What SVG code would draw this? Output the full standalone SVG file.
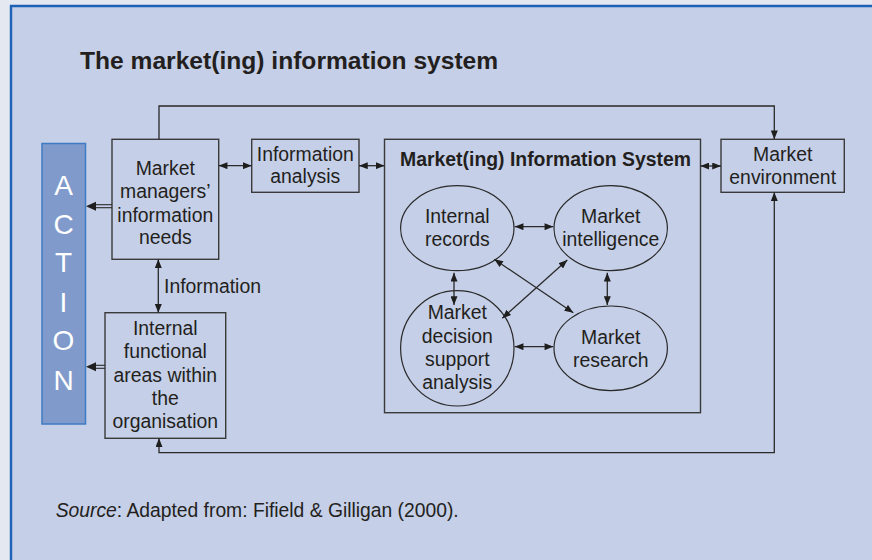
<svg xmlns="http://www.w3.org/2000/svg" width="872" height="560" viewBox="0 0 872 560">
<style>
text{font-family:"Liberation Sans",Arial,sans-serif;fill:#231f20;}
.t{font-size:19.4px;text-anchor:middle;}
.box{fill:none;stroke:#3a3a3a;stroke-width:1.4;}
.ell{fill:none;stroke:#2a2a2a;stroke-width:1.2;}
.ln{fill:none;stroke:#2a2a2a;stroke-width:1.3;}
.act{font-size:28px;fill:#ffffff;text-anchor:middle;}
</style>
<defs>
<marker id="ah" viewBox="0 0 10 8" refX="10" refY="4" markerWidth="9" markerHeight="7" markerUnits="userSpaceOnUse" orient="auto-start-reverse">
<path d="M0,0 L10,4 L0,8 z" fill="#1e1e1e"/>
</marker>
</defs>
<rect x="0" y="0" width="872" height="560" fill="#e4e8f1"/>
<rect x="11" y="6" width="861" height="554" fill="#c5cfe7"/>
<line x1="10" y1="6" x2="872" y2="6" stroke="#1d62b5" stroke-width="2.4"/>
<line x1="11" y1="5" x2="11" y2="560" stroke="#1d62b5" stroke-width="2.4"/>

<text x="80" y="69" style="font-size:24.6px;font-weight:bold;">The market(ing) information system</text>

<g id="action">
<rect x="42" y="143.5" width="43.5" height="280.5" fill="#7f9acb" stroke="#3f7bc4" stroke-width="1.5"/>
<text class="act" x="63.5" y="195">A</text>
<text class="act" x="63.5" y="233.5">C</text>
<text class="act" x="63.5" y="272">T</text>
<text class="act" x="63.5" y="311.5">I</text>
<text class="act" x="63.5" y="350">O</text>
<text class="act" x="63.5" y="389.5">N</text>
</g>

<g id="managers">
<rect class="box" x="112" y="139.3" width="106.7" height="120"/>
<text class="t" x="165.3" y="175">Market</text>
<text class="t" x="165.3" y="197.7">managers’</text>
<text class="t" x="165.3" y="221.5">information</text>
<text class="t" x="165.3" y="244.3">needs</text>
</g>

<g id="analysis">
<rect class="box" x="251.7" y="139.3" width="107.3" height="53"/>
<text class="t" x="305.3" y="160.7">Information</text>
<text class="t" x="305.3" y="183.3">analysis</text>
</g>

<g id="mis">
<rect class="box" x="384.5" y="139.3" width="316" height="273.4"/>
<text x="545.5" y="166" style="font-size:19.4px;font-weight:bold;text-anchor:middle;">Market(ing) Information System</text>
</g>

<g id="environment">
<rect class="box" x="721" y="139.3" width="123.3" height="53"/>
<text class="t" x="782.7" y="160.7">Market</text>
<text class="t" x="782.7" y="184">environment</text>
</g>

<g id="functional">
<rect class="box" x="105" y="312.7" width="120.7" height="125.6"/>
<text class="t" x="165.3" y="335">Internal</text>
<text class="t" x="165.3" y="358.3">functional</text>
<text class="t" x="165.3" y="381.7">areas within</text>
<text class="t" x="165.3" y="405">the</text>
<text class="t" x="165.3" y="428.3">organisation</text>
</g>

<g id="records">
<ellipse class="ell" cx="457.3" cy="228.2" rx="56.7" ry="42.5"/>
<text class="t" x="457.3" y="223.3">Internal</text>
<text class="t" x="457.3" y="246">records</text>
</g>

<g id="intelligence">
<ellipse class="ell" cx="610.7" cy="228.2" rx="56.7" ry="42.5"/>
<text class="t" x="610.7" y="223.3">Market</text>
<text class="t" x="610.7" y="246">intelligence</text>
</g>

<g id="decision">
<ellipse class="ell" cx="457.3" cy="348.3" rx="56.7" ry="57.7"/>
<text class="t" x="457.3" y="319.3">Market</text>
<text class="t" x="457.3" y="342.7">decision</text>
<text class="t" x="457.3" y="366">support</text>
<text class="t" x="457.3" y="388.8">analysis</text>
</g>

<g id="research">
<ellipse class="ell" cx="610.7" cy="348.3" rx="56.7" ry="42.3"/>
<text class="t" x="610.7" y="344">Market</text>
<text class="t" x="610.7" y="366.5">research</text>
</g>

<g id="connectors">
<polyline class="ln" points="159,139.3 159,106 774.3,106 774.3,139.3" marker-end="url(#ah)"/>
<polyline class="ln" points="159,438.3 159,452.7 774.3,452.7 774.3,192.3" marker-start="url(#ah)" marker-end="url(#ah)"/>
<line class="ln" x1="218.7" y1="165.7" x2="251.7" y2="165.7" marker-start="url(#ah)" marker-end="url(#ah)"/>
<line class="ln" x1="359" y1="165.7" x2="384.5" y2="165.7" marker-start="url(#ah)" marker-end="url(#ah)"/>
<line class="ln" x1="700.5" y1="166" x2="721" y2="166" marker-start="url(#ah)" marker-end="url(#ah)"/>
<line class="ln" x1="158.3" y1="259.3" x2="158.3" y2="312.7" marker-start="url(#ah)" marker-end="url(#ah)"/>
<text x="164" y="293.3" style="font-size:19.4px;">Information</text>
<line class="ln" x1="514.7" y1="226.7" x2="553.3" y2="226.7" marker-start="url(#ah)" marker-end="url(#ah)"/>
<line class="ln" x1="514.7" y1="346.7" x2="553.3" y2="346.7" marker-start="url(#ah)" marker-end="url(#ah)"/>
<line class="ln" x1="454" y1="272.7" x2="454" y2="305" marker-start="url(#ah)" marker-end="url(#ah)"/>
<line class="ln" x1="607.3" y1="272.7" x2="607.3" y2="305" marker-start="url(#ah)" marker-end="url(#ah)"/>
<line class="ln" x1="494.3" y1="259.3" x2="573.3" y2="312.7" marker-start="url(#ah)" marker-end="url(#ah)"/>
<line class="ln" x1="502.3" y1="318.3" x2="567.3" y2="260" marker-start="url(#ah)" marker-end="url(#ah)"/>
<g fill="none" stroke="#2a2a2a" stroke-width="1.1">
<line x1="112" y1="204.7" x2="93" y2="204.7"/>
<line x1="112" y1="207.7" x2="93" y2="207.7"/>
<line x1="105" y1="365.3" x2="93" y2="365.3"/>
<line x1="105" y1="368.3" x2="93" y2="368.3"/>
</g>
<path d="M86,206.2 L96,201.7 L96,210.7 z" fill="#1e1e1e"/>
<path d="M86,366.8 L96,362.3 L96,371.3 z" fill="#1e1e1e"/>
</g>

<text x="55.7" y="517.3" style="font-size:19.3px;"><tspan font-style="italic">Source</tspan>: Adapted from: Fifield &amp; Gilligan (2000).</text>
</svg>
